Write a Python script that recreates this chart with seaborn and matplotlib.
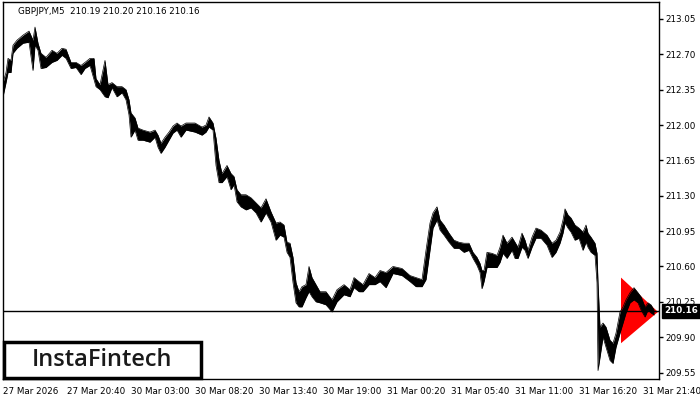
import numpy as np
import pandas as pd
import matplotlib.pyplot as plt
import seaborn as sns
from matplotlib.patches import Polygon, Rectangle

# bar number (M5 bars from the left edge) with the high / low of price around it
bar = [0, 3, 5, 8, 10, 14, 20, 26, 30, 32,
       35, 38, 43, 49, 54, 59, 63, 68, 73, 78,
       82, 87, 91, 93, 97, 102, 105, 109, 114, 119,
       123, 126, 128, 132, 135, 140, 147, 152, 155, 158,
       162, 166, 170, 174, 178, 183, 192, 199, 203, 206,
       210, 213, 216, 219, 224, 228, 231, 234, 238, 243,
       248, 253, 258, 263, 268, 273, 277, 281, 284, 287,
       290, 293, 296, 299, 303, 306, 309, 313, 317, 323,
       329, 334, 341, 347, 351, 356, 360, 366, 372, 377,
       383, 390, 399, 407, 413, 419, 423, 427, 430, 434,
       437, 441, 446, 451, 456, 461, 466, 470, 474, 477,
       479, 481, 484, 489, 494, 497, 500, 504, 509, 512,
       515, 519, 522, 525, 529, 533, 538, 544, 549, 553,
       557, 560, 562, 565, 568, 572, 576, 580, 583, 585,
       588, 592, 594, 595, 597, 600, 603, 607, 610, 613,
       617, 620, 623, 627, 631, 635, 638, 642, 645, 648, 651]
high = [212.42, 212.52, 212.66, 212.64, 212.79, 212.84, 212.89, 212.93, 212.84, 212.97,
        212.81, 212.71, 212.67, 212.74, 212.71, 212.76, 212.75, 212.62, 212.62, 212.59,
        212.62, 212.66, 212.66, 212.46, 212.40, 212.64, 212.40, 212.42, 212.38, 212.38,
        212.35, 212.25, 212.12, 212.07, 211.97, 211.95, 211.93, 211.95, 211.90, 211.82,
        211.88, 211.93, 211.99, 212.02, 211.99, 212.02, 212.02, 211.98, 212.00, 212.08,
        212.02, 211.87, 211.65, 211.52, 211.60, 211.52, 211.49, 211.36, 211.31, 211.31,
        211.28, 211.23, 211.18, 211.27, 211.14, 211.03, 211.04, 211.01, 210.84, 210.83,
        210.69, 210.44, 210.35, 210.40, 210.42, 210.60, 210.49, 210.42, 210.35, 210.35,
        210.27, 210.37, 210.42, 210.37, 210.49, 210.45, 210.42, 210.53, 210.49, 210.56,
        210.54, 210.60, 210.58, 210.51, 210.49, 210.47, 210.76, 211.03, 211.13, 211.19,
        211.06, 211.01, 210.93, 210.86, 210.84, 210.83, 210.83, 210.74, 210.69, 210.63,
        210.56, 210.56, 210.74, 210.73, 210.71, 210.79, 210.91, 210.83, 210.89, 210.84,
        210.79, 210.93, 210.86, 210.76, 210.89, 210.98, 210.96, 210.91, 210.83, 210.86,
        210.94, 211.06, 211.17, 211.11, 211.08, 211.01, 210.98, 210.94, 211.01, 210.93,
        210.89, 210.83, 210.73, 210.44, 210.00, 210.04, 210.00, 209.87, 209.84, 209.94,
        210.15, 210.20, 210.27, 210.34, 210.39, 210.34, 210.30, 210.20, 210.24, 210.22, 210.17]
low = [212.28, 212.42, 212.52, 212.52, 212.71, 212.76, 212.81, 212.82, 212.54, 212.79,
       212.74, 212.56, 212.57, 212.62, 212.64, 212.69, 212.66, 212.56, 212.57, 212.50,
       212.56, 212.59, 212.45, 212.38, 212.35, 212.28, 212.27, 212.37, 212.28, 212.32,
       212.25, 212.10, 211.88, 211.95, 211.85, 211.85, 211.83, 211.88, 211.78, 211.72,
       211.78, 211.85, 211.92, 211.95, 211.88, 211.95, 211.93, 211.90, 211.93, 211.98,
       211.95, 211.60, 211.43, 211.43, 211.49, 211.36, 211.41, 211.24, 211.19, 211.16,
       211.18, 211.13, 211.04, 211.13, 211.04, 210.86, 210.91, 210.89, 210.74, 210.69,
       210.44, 210.24, 210.20, 210.20, 210.29, 210.35, 210.30, 210.25, 210.24, 210.22,
       210.15, 210.25, 210.32, 210.30, 210.39, 210.35, 210.35, 210.42, 210.42, 210.45,
       210.39, 210.53, 210.51, 210.45, 210.40, 210.40, 210.47, 210.76, 210.98, 211.06,
       210.96, 210.91, 210.84, 210.78, 210.78, 210.74, 210.76, 210.68, 210.61, 210.54,
       210.38, 210.45, 210.59, 210.59, 210.59, 210.64, 210.73, 210.68, 210.76, 210.68,
       210.68, 210.79, 210.76, 210.68, 210.79, 210.88, 210.88, 210.81, 210.69, 210.74,
       210.83, 210.93, 211.03, 210.98, 210.94, 210.86, 210.88, 210.76, 210.84, 210.79,
       210.74, 210.71, 210.44, 209.57, 209.70, 209.90, 209.80, 209.67, 209.64, 209.80,
       209.94, 210.04, 210.14, 210.24, 210.27, 210.24, 210.17, 210.10, 210.17, 210.14, 210.12]

# pennant pattern (bar, price)
tri_bar = [618, 618, 655]
tri_price = [210.49, 209.84, 210.15]

last_price = 210.16
header = "GBPJPY,M5  210.19 210.20 210.16 210.16"
price_ticks = [209.55, 209.90, 210.25, 210.60, 210.95, 211.30,
               211.65, 212.00, 212.35, 212.70, 213.05]
time_ticks = [0, 64, 128, 192, 256, 320, 384, 448, 512, 576, 640]
time_labels = ["27 Mar 2026", "27 Mar 20:40", "30 Mar 03:00", "30 Mar 08:20",
               "30 Mar 13:40", "30 Mar 19:00", "31 Mar 00:20", "31 Mar 05:40",
               "31 Mar 11:00", "31 Mar 16:20", "31 Mar 21:40"]

sns.set_style("white")
plt.rcParams['font.family'] = ['DejaVu Sans']

df = pd.DataFrame({'bar': bar, 'high': high, 'low': low})

fig = plt.figure(figsize=(7, 4), dpi=100)
ax = fig.add_axes([3/700, 21/400, 656/700, 377/400])

ax.fill_between(df['bar'], df['low'], df['high'], color='black', lw=0, zorder=3)
sns.lineplot(data=df, x='bar', y='high', ax=ax, color='black', lw=0.5, zorder=3)
sns.lineplot(data=df, x='bar', y='low', ax=ax, color='black', lw=0.5, zorder=3)

ax.add_patch(Polygon(list(zip(tri_bar, tri_price)), closed=True,
                     facecolor='#ff0000', edgecolor='none', zorder=2))
ax.axhline(last_price, color='black', lw=1, zorder=4)

ax.set_xlim(0, 656)
ax.set_ylim(209.486, 213.218)
ax.set_xlabel('')
ax.set_ylabel('')

ax.yaxis.tick_right()
ax.set_yticks(price_ticks)
ax.set_yticklabels([f"{p:.2f}" for p in price_ticks])
ax.set_xticks(time_ticks)
ax.set_xticklabels(time_labels)
for lbl in ax.get_xticklabels():
    lbl.set_ha('left')
ax.tick_params(axis='both', direction='out', length=3, width=1,
               labelsize=6.3, colors='black', pad=1.5)
ax.tick_params(axis='x', length=4)

for s in ax.spines.values():
    s.set_visible(True)
    s.set_color('black')
    s.set_linewidth(1)

# current price tag
ax.annotate(f"{last_price:.2f}", xy=(1.0, last_price),
            xycoords=('axes fraction', 'data'), xytext=(4, 0),
            textcoords='offset points', ha='left', va='center',
            fontsize=6.3, color='white', fontweight='bold',
            bbox=dict(boxstyle='square,pad=0.25', fc='black', ec='black'),
            annotation_clip=False, zorder=6)

fig.text(18/700, 1 - 11/400, header, ha='left', va='center', fontsize=6.3, color='black')

# logo box
fig.patches.append(Rectangle((4/700, 22/400), 197/700, 36/400, transform=fig.transFigure,
                             facecolor='white', edgecolor='black', lw=2.5, zorder=10))
fig.text(102/700, 1 - 360/400, "InstaFintech", ha='center', va='center',
         fontsize=17, family='Open Sans', fontweight='semibold', color='#1a1a1a', zorder=11)

fig.savefig('out.png', dpi=100)
